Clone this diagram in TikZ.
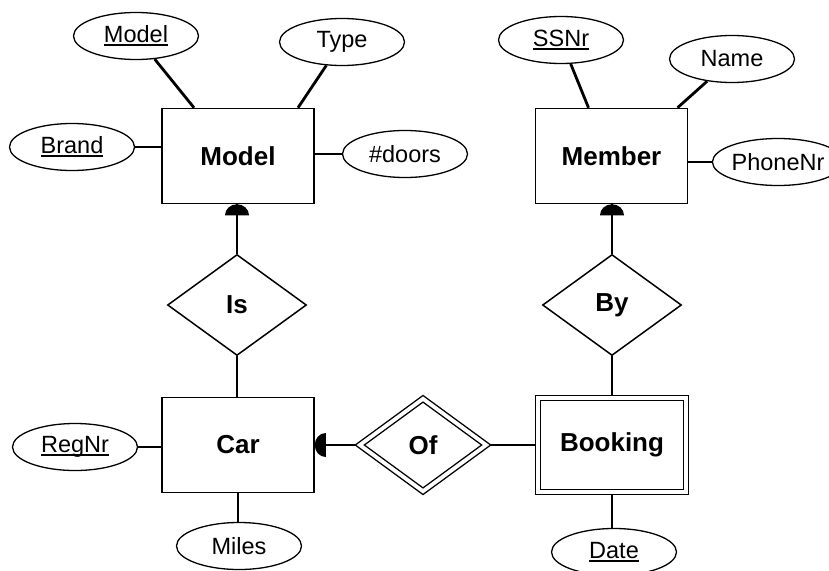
\documentclass[tikz,border=0pt]{standalone}
\usepackage{fontspec}
\setmainfont{Liberation Sans}
\usetikzlibrary{shapes.geometric,backgrounds}
\newcommand\attrkey[1]{\setbox0\hbox{#1}\rlap{\vrule width\wd0 height -1.5pt depth 3.5pt}\box0}
\begin{document}
\begin{tikzpicture}[x=1pt,y=-1pt,
  entity/.style={draw, line width=1.5pt, fill=white, minimum width=152pt, minimum height=95pt, inner sep=0pt, font=\fontsize{26}{30}\selectfont\bfseries},
  weakentity/.style={entity, line width=1.4pt, double, double distance=3.8pt, minimum width=148pt, minimum height=94pt},
  rel/.style={diamond, draw, line width=1.5pt, fill=white, minimum width=139pt, minimum height=101pt, inner sep=0pt, font=\fontsize{26}{30}\selectfont\bfseries},
  weakrel/.style={rel, line width=1.4pt, double, double distance=3.8pt, minimum width=127pt, minimum height=93pt},
  attr/.style={ellipse, draw, line width=1.3pt, fill=white, minimum width=125pt, minimum height=47pt, inner sep=0pt, font=\fontsize{23.5}{28}\selectfont},
  conn/.style={line width=2.8pt},
  hd/.pic={\fill (-12,11) .. controls (-12,4.9) and (-6.6,0) .. (0,0) .. controls (6.6,0) and (12,4.9) .. (12,11) -- cycle;}
]
\useasboundingbox (0,0) rectangle (829,570);
% entities and relationships
\node[entity] (Model) at (238,156) {Model};
\node[entity] (Member) at (611.5,156) {Member};
\node[entity] (Car) at (238,445) {Car};
\node[weakentity] (Booking) at (612,445) {Booking};
\node[rel] (Is) at (237,305) {Is};
\node[rel] (By) at (612,305) {By};
\node[weakrel] (Of) at (423,445) {Of};
% attributes
\node[attr] (aModel) at (136,36) {\attrkey{Model}};
\node[attr] (aType) at (342,42) {Type};
\node[attr] (aBrand) at (72,147) {\attrkey{Brand}};
\node[attr] (aDoors) at (405,154) {\#doors};
\node[attr] (aSSN) at (561,40) {\attrkey{SSNr}};
\node[attr] (aName) at (732,59) {Name};
\node[attr] (aPhone) at (778,162) {PhoneNr};
\node[attr] (aReg) at (75,447) {\attrkey{RegNr}};
\node[attr] (aMiles) at (239,546) {Miles};
\node[attr] (aDate) at (614,552) {\attrkey{Date}};
% connectors
\begin{scope}[on background layer]
\draw[conn] (aModel) -- ([xshift=-44pt]Model.north);
\draw[conn] (aType) -- ([xshift=60pt]Model.north);
\draw[conn] (aBrand) -- (aBrand -| Model.west);
\draw[conn] (aDoors) -- (aDoors -| Model.east);
\draw[conn] (aSSN) -- ([xshift=-23pt]Member.north);
\draw[conn] (aName) -- ([xshift=66pt]Member.north);
\draw[conn] (aPhone) -- (aPhone -| Member.east);
\draw[conn] (aReg) -- (aReg -| Car.west);
\draw[conn] (Car.south) -- (Car.south |- aMiles.north);
\draw[conn] (Booking.south) -- (Booking.south |- aDate.north);
\draw[conn] (Is) -- (Is |- Model.south);
\draw[conn] (Is) -- (Is |- Car.north);
\draw[conn] (By) -- (By |- Member.south);
\draw[conn] (By) -- (By |- Booking.north);
\draw[conn] (Of) -- (Of -| Car.east);
\draw[conn] (Of) -- (Of -| Booking.west);
\end{scope}
% participation markers
\pic at (Is |- Model.south) {hd};
\pic at (By |- Member.south) {hd};
\pic[rotate=90] at (Of -| Car.east) {hd};
\end{tikzpicture}
\end{document}
